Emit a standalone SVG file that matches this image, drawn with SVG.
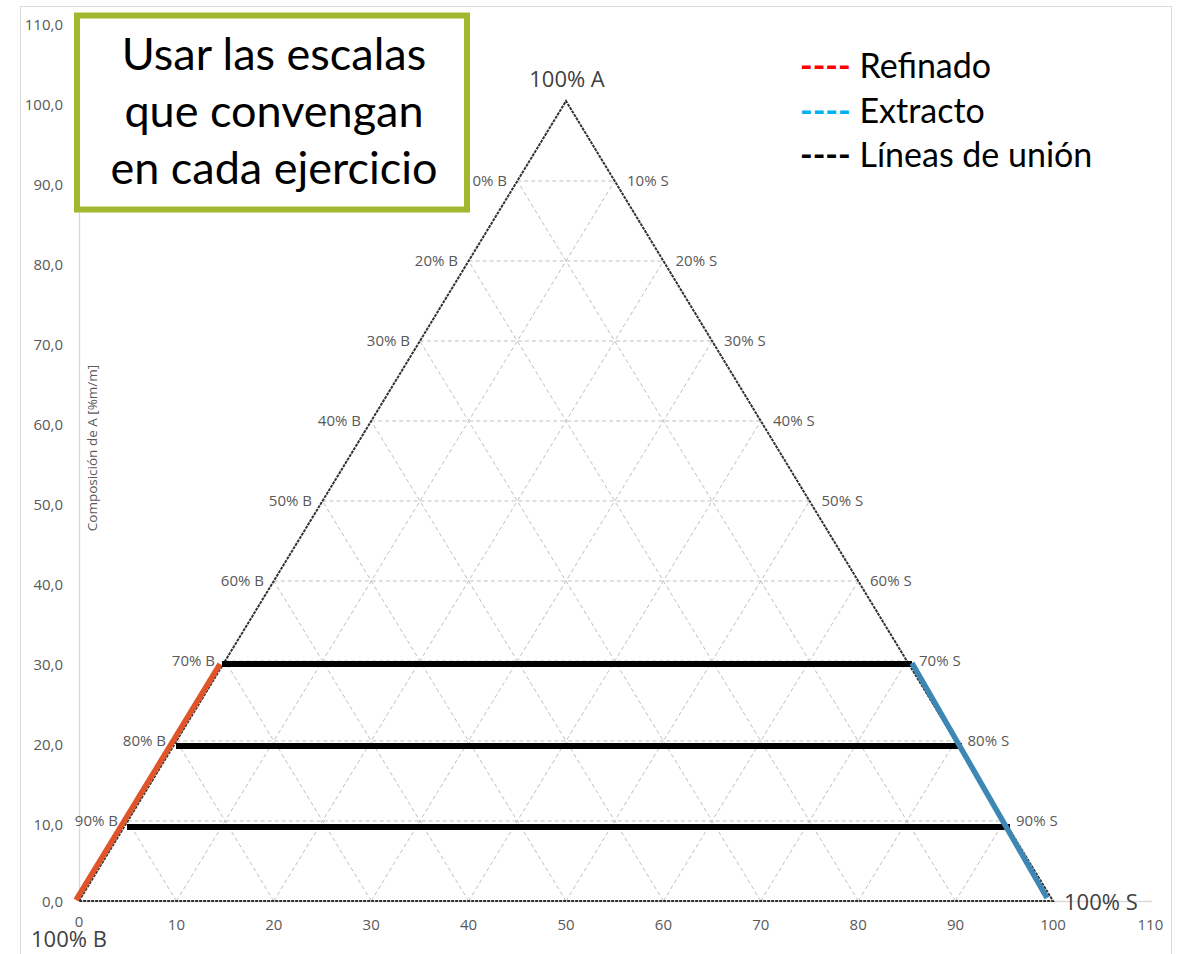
<svg xmlns="http://www.w3.org/2000/svg" width="1181" height="954" viewBox="0 0 1181 954">
<defs>
<style>
.tick{font-family:"Open Sans","Liberation Sans",sans-serif;font-size:15px;fill:#595959}
.lbl{font-family:"Open Sans","Liberation Sans",sans-serif;font-size:15px;fill:#595959}
.ytitle{font-family:"Open Sans","Liberation Sans",sans-serif;font-size:13.5px;fill:#595959}
.corner{font-family:"Open Sans","Liberation Sans",sans-serif;font-size:22px;fill:#404040}
.grid line{stroke:#bfbfbf;stroke-width:1;stroke-dasharray:4 3;fill:none}
.edge{stroke:#333;stroke-width:2;stroke-dasharray:3 1;fill:none}
.tie{stroke:#000;stroke-width:6;fill:none}
.big{font-family:Lato,"Liberation Sans",sans-serif;fill:#000}
</style>
</defs>
<rect x="0" y="0" width="1181" height="954" fill="#fff"/>
<rect x="20.5" y="6.5" width="1151" height="970" fill="none" stroke="#d9d9d9" stroke-width="1"/>
<g id="axes">
<line x1="79.5" y1="22" x2="79.5" y2="901" stroke="#d9d9d9" stroke-width="1.3"/>
<line x1="79" y1="901.5" x2="1152" y2="901.5" stroke="#d9d9d9" stroke-width="1.3"/>
<g class="tick" text-anchor="end">
<text x="63" y="30">110,0</text>
<text x="63" y="110">100,0</text>
<text x="63" y="190">90,0</text>
<text x="63" y="270">80,0</text>
<text x="63" y="350">70,0</text>
<text x="63" y="430">60,0</text>
<text x="63" y="510">50,0</text>
<text x="63" y="590">40,0</text>
<text x="63" y="670">30,0</text>
<text x="63" y="750">20,0</text>
<text x="63" y="830">10,0</text>
<text x="63" y="907">0,0</text>
</g>
<g class="tick" text-anchor="middle">
<text x="79" y="927">0</text>
<text x="176.4" y="930">10</text>
<text x="273.8" y="930">20</text>
<text x="371.2" y="930">30</text>
<text x="468.6" y="930">40</text>
<text x="566" y="930">50</text>
<text x="663.4" y="930">60</text>
<text x="760.8" y="930">70</text>
<text x="858.2" y="930">80</text>
<text x="955.6" y="930">90</text>
<text x="1053" y="930">100</text>
<text x="1150.4" y="930">110</text>
</g>
<text class="ytitle" x="0" y="0" text-anchor="middle" transform="translate(97 448) rotate(-90)">Composición de A [%m/m]</text>
</g>
<g id="grid" class="grid">
<line x1="127.7" y1="821" x2="1004.3" y2="821"/>
<line x1="176.4" y1="741" x2="955.6" y2="741"/>
<line x1="225.1" y1="661" x2="906.9" y2="661"/>
<line x1="273.8" y1="581" x2="858.2" y2="581"/>
<line x1="322.5" y1="501" x2="809.5" y2="501"/>
<line x1="371.2" y1="421" x2="760.8" y2="421"/>
<line x1="419.9" y1="341" x2="712.1" y2="341"/>
<line x1="468.6" y1="261" x2="663.4" y2="261"/>
<line x1="517.3" y1="181" x2="614.7" y2="181"/>
<line x1="176.4" y1="901" x2="614.7" y2="181"/>
<line x1="273.8" y1="901" x2="663.4" y2="261"/>
<line x1="371.2" y1="901" x2="712.1" y2="341"/>
<line x1="468.6" y1="901" x2="760.8" y2="421"/>
<line x1="566" y1="901" x2="809.5" y2="501"/>
<line x1="663.4" y1="901" x2="858.2" y2="581"/>
<line x1="760.8" y1="901" x2="906.9" y2="661"/>
<line x1="858.2" y1="901" x2="955.6" y2="741"/>
<line x1="955.6" y1="901" x2="1004.3" y2="821"/>
<line x1="176.4" y1="901" x2="127.7" y2="821"/>
<line x1="273.8" y1="901" x2="176.4" y2="741"/>
<line x1="371.2" y1="901" x2="225.1" y2="661"/>
<line x1="468.6" y1="901" x2="273.8" y2="581"/>
<line x1="566" y1="901" x2="322.5" y2="501"/>
<line x1="663.4" y1="901" x2="371.2" y2="421"/>
<line x1="760.8" y1="901" x2="419.9" y2="341"/>
<line x1="858.2" y1="901" x2="468.6" y2="261"/>
<line x1="955.6" y1="901" x2="517.3" y2="181"/>
</g>
<g id="triangle">
<polygon class="edge" points="79,901 566,101 1053,901"/>
</g>
<g id="scale-labels">
<g class="lbl" text-anchor="end">
<text x="507" y="186">10% B</text>
<text x="458" y="266">20% B</text>
<text x="410" y="346">30% B</text>
<text x="361" y="426">40% B</text>
<text x="312" y="506">50% B</text>
<text x="264" y="586">60% B</text>
<text x="215" y="666">70% B</text>
<text x="166" y="746">80% B</text>
<text x="118" y="826">90% B</text>
</g>
<g class="lbl">
<text x="627" y="186">10% S</text>
<text x="675.5" y="266">20% S</text>
<text x="724" y="346">30% S</text>
<text x="773" y="426">40% S</text>
<text x="821.5" y="506">50% S</text>
<text x="870" y="586">60% S</text>
<text x="919" y="666">70% S</text>
<text x="967.5" y="746">80% S</text>
<text x="1016" y="826">90% S</text>
</g>
<text class="corner" x="567" y="87" text-anchor="middle">100% A</text>
<text class="corner" x="31" y="947" font-size="21">100% B</text>
<text class="corner" x="1064" y="910">100% S</text>
</g>
<g id="connectors">
<line class="tie" x1="222" y1="664" x2="912" y2="664"/>
<line class="tie" x1="176" y1="746" x2="962" y2="746"/>
<line class="tie" x1="127" y1="827" x2="1010" y2="827"/>
<line x1="76" y1="900" x2="220" y2="664" stroke="#e0542a" stroke-width="5.5" stroke-linecap="butt"/>
<line x1="912" y1="663" x2="1047" y2="898" stroke="#3e87b5" stroke-width="5.5" stroke-linecap="butt"/>
</g>
<g id="note">
<rect x="77" y="15.5" width="390" height="194" fill="#fff" stroke="#a2b82e" stroke-width="6"/>
<g class="big" font-size="45" text-anchor="middle">
<text x="274" y="70">Usar las escalas</text>
<text x="274" y="127">que convengan</text>
<text x="274" y="184">en cada ejercicio</text>
</g>
</g>
<g id="legend" class="big" font-size="34">
<text x="800" y="78"><tspan fill="#ff0000" font-weight="bold">----</tspan> Refinado</text>
<text x="800" y="123"><tspan fill="#00b0f0" font-weight="bold">----</tspan> Extracto</text>
<text x="800" y="167"><tspan fill="#000" font-weight="bold">----</tspan> Líneas de unión</text>
</g>
</svg>
